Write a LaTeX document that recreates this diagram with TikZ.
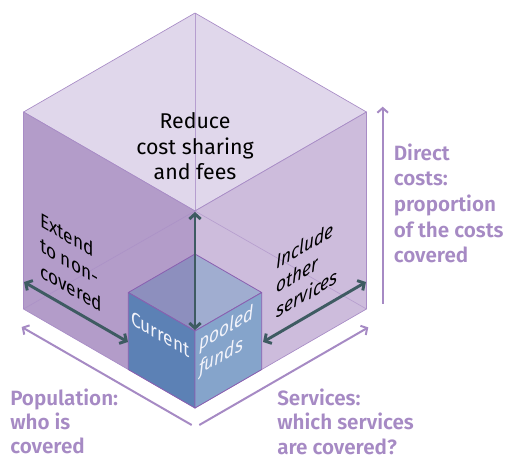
\documentclass[tikz,border=0pt]{standalone}
\usepackage{fontspec}
\setmainfont{Fira Sans}
\newfontfamily\labfont{Fira Sans}[UprightFont=* SemiBold]
\usetikzlibrary{arrows.meta}

\definecolor{topface}{HTML}{E0D7EB}
\definecolor{leftface}{HTML}{B39CC9}
\definecolor{rightface}{HTML}{CDBCDC}
\definecolor{edgecol}{HTML}{A88CC6}
\definecolor{smalltopL}{HTML}{8D8FBE}
\definecolor{smalltopR}{HTML}{A0ADD0}
\definecolor{smallL}{HTML}{5C81B5}
\definecolor{smallR}{HTML}{85A4CB}
\definecolor{smalledge}{HTML}{8A5FB0}
\definecolor{darkarrow}{HTML}{3E5B62}
\definecolor{axiscol}{HTML}{A68AC4}
\definecolor{fundtext}{HTML}{F2F3FA}

\tikzset{
  bigface/.style={fill=#1, draw=edgecol, line width=0.5pt, line join=round},
  hiddenedge/.style={draw=edgecol, line width=0.4pt, opacity=0.75},
  smallface/.style={fill=#1, draw=smalledge, line width=0.6pt, line join=round},
  dimarrow/.style={draw=darkarrow, line width=2.2pt,
    {Straight Barb[length=3.8pt,width=8.5pt]}-{Straight Barb[length=3.8pt,width=8.5pt]}},
  axisarrow/.style={draw=axiscol, line width=1.5pt, -{Straight Barb[length=3.5pt,width=8pt]}},
  leftshear/.style={cm={0.866,-0.5,0,1,(0,0)}},
  rightshear/.style={cm={0.866,0.5,0,1,(0,0)}},
  facetext/.style={inner sep=0pt, align=left, text=black, font=\fontsize{15}{19}\selectfont},
  axislabel/.style={inner sep=0pt, align=left, anchor=north west, text=axiscol,
    font=\labfont\fontsize{15.5}{18.3}\selectfont},
  fundlabel/.style={inner sep=0pt, align=left, text=fundtext, font=\fontsize{15}{18.8}\selectfont}
}

\begin{document}
\begin{tikzpicture}[x=0.75pt,y=-0.75pt]
  \useasboundingbox (0,0) rectangle (508,458);

  % large cube corners (isometric)
  \coordinate (T)  at (195,13);
  \coordinate (L)  at (23.5,112);
  \coordinate (C)  at (195,211);
  \coordinate (R)  at (366.5,112);
  \coordinate (LB) at (23.5,309);
  \coordinate (RB) at (366.5,309);
  \coordinate (B)  at (195,408);

  % small cube corners
  \coordinate (sK)  at (195,254);
  \coordinate (sL)  at (128.3,292.5);
  \coordinate (sF)  at (195,331);
  \coordinate (sR)  at (261.7,292.5);
  \coordinate (sLB) at (128.3,369.5);
  \coordinate (sRB) at (261.7,369.5);

  % large cube faces
  \path[bigface=topface]   (T) -- (L) -- (C) -- (R) -- cycle;
  \path[bigface=leftface]  (L) -- (C) -- (B) -- (LB) -- cycle;
  \path[bigface=rightface] (C) -- (R) -- (RB) -- (B) -- cycle;

  % edges seen through the box
  \draw[hiddenedge] (T) -- (C);
  \draw[hiddenedge] (C) -- (LB);
  \draw[hiddenedge] (C) -- (RB);

  % small cube
  \path[smallface=smalltopL] (sK) -- (sL) -- (sF) -- cycle;
  \path[smallface=smalltopR] (sK) -- (sF) -- (sR) -- cycle;
  \path[smallface=smallL] (sL) -- (sF) -- (B) -- (sLB) -- cycle;
  \path[smallface=smallR] (sF) -- (sR) -- (sRB) -- (B) -- cycle;

  % dimension arrows
  \coordinate (vTop) at (195,212);
  \coordinate (vBot) at (195,330);
  \coordinate (lOut) at (24,282);
  \coordinate (lIn)  at (128,342);
  \coordinate (rOut) at (366,282);
  \coordinate (rIn)  at (263,342);
  \draw[dimarrow] (vBot) -- (vTop);
  \draw[dimarrow] (lIn) -- (lOut);
  \draw[dimarrow] (rIn) -- (rOut);

  % axes
  \coordinate (popStart) at (191.7,425);
  \coordinate (popEnd)   at (21.7,327);
  \coordinate (srvStart) at (199.3,425);
  \coordinate (srvEnd)   at (368.3,327.4);
  \coordinate (costStart) at (382.7,303.5);
  \coordinate (costEnd)   at (382.7,106.7);
  \draw[axisarrow] (popStart) -- (popEnd);
  \draw[axisarrow] (srvStart) -- (srvEnd);
  \draw[axisarrow] (costStart) -- (costEnd);

  % texts on the box
  \node[inner sep=0pt, align=center, anchor=north, font=\fontsize{16}{19.3}\selectfont]
    (reduce) at (195,112) {Reduce\\cost sharing\\and fees};
  \node[facetext, leftshear, anchor=north west] (extend) at (40,211)
    {Extend\\to non-\\covered};
  \node[facetext, rightshear, anchor=north west, font=\itshape\fontsize{15}{18.5}\selectfont]
    (include) at (276,254) {Include\\other\\services};
  \node[fundlabel, leftshear, anchor=base west] (current) at (131,324) {Current};
  \node[fundlabel, rightshear, anchor=north west, font=\itshape\fontsize{15}{18.8}\selectfont]
    (pooled) at (199,335) {pooled\\funds};

  % axis labels
  \node[axislabel] (population) at (10,388.3) {Population:\\who is\\covered};
  \node[axislabel] (services) at (277,388.7) {Services:\\which services\\are covered?};
  \node[axislabel, font=\labfont\fontsize{15.5}{19.2}\selectfont] (direct) at (393.5,143.5)
    {Direct\\costs:\\proportion\\of the costs\\covered};
\end{tikzpicture}
\end{document}
